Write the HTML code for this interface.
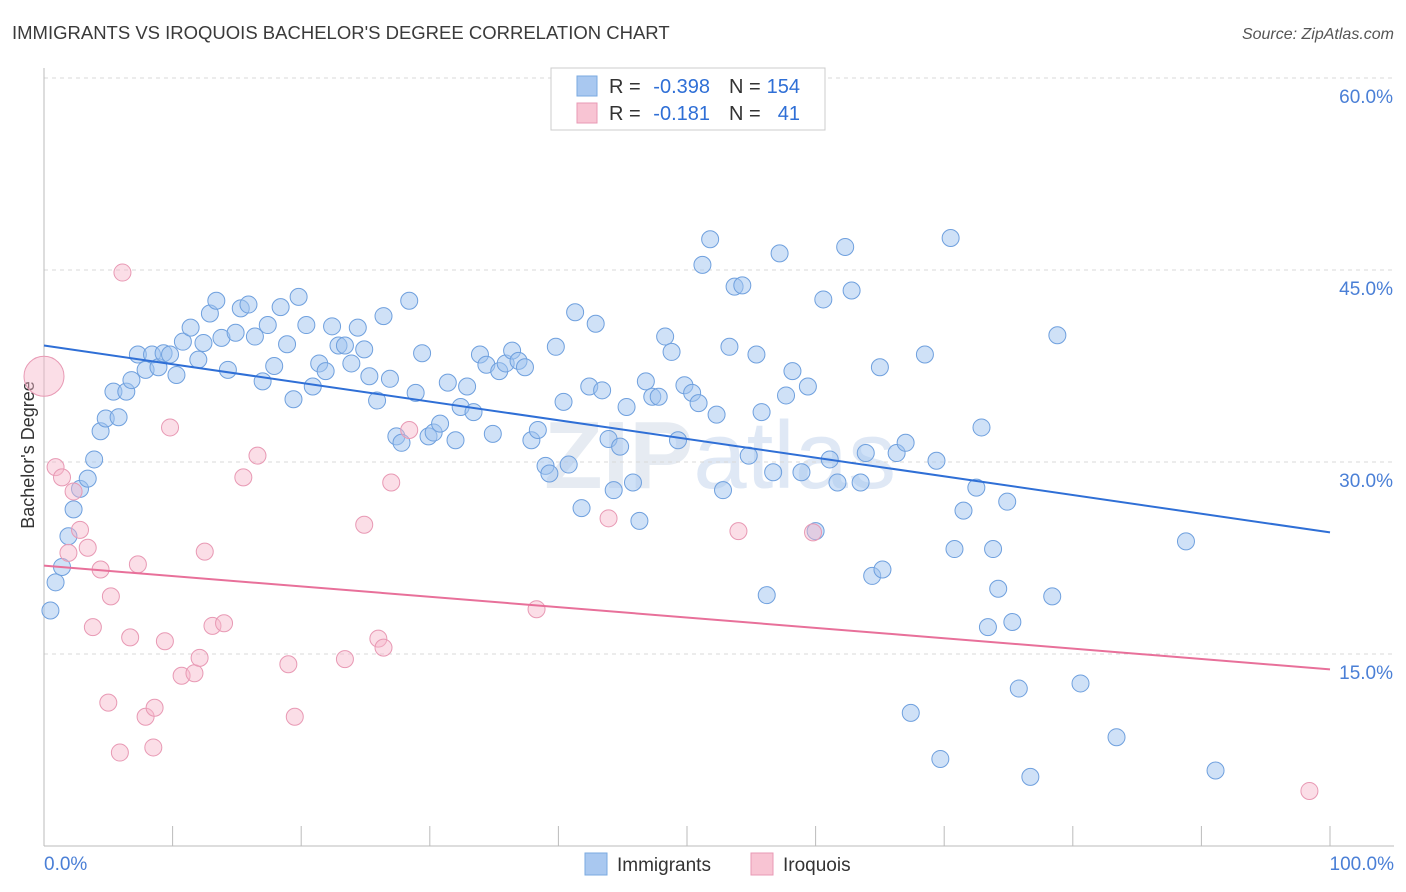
<!DOCTYPE html>
<html><head><meta charset="utf-8">
<style>
body{margin:0;background:#fff;font-family:"Liberation Sans",sans-serif;}
#wrap{position:relative;width:1406px;height:892px;overflow:hidden;}
</style></head>
<body>
<div id="wrap">
<svg id="chart" width="1406" height="892" xmlns="http://www.w3.org/2000/svg">
  <text x="12" y="39" font-size="18.5" fill="#3a3a3a">IMMIGRANTS VS IROQUOIS BACHELOR'S DEGREE CORRELATION CHART</text>
  <text x="1394" y="39" font-size="16" fill="#555" font-style="italic" text-anchor="end">Source: ZipAtlas.com</text>
  <text x="720" y="488" font-size="96" fill="#e6ebf2" text-anchor="middle" font-weight="bold">ZIP<tspan font-weight="normal" fill="#dfe8f5">atlas</tspan></text>
  <g id="grid"></g>
  <g id="axes"></g>
  <text transform="translate(34,455) rotate(-90)" font-size="18" fill="#333" text-anchor="middle">Bachelor's Degree</text>
  <g id="pts"></g>
  <g id="lines"></g>
  <g>
    <rect x="551" y="68" width="274" height="62" fill="#fff" stroke="#ccc"/>
    <rect x="577" y="76" width="20" height="20" fill="#a9c8f0" stroke="#7aaae0"/>
    <rect x="577" y="103" width="20" height="20" fill="#f8c4d3" stroke="#e89ab5"/>
    <g font-size="20" fill="#333">
      <text x="609" y="93">R =</text>
      <text x="710" y="93" text-anchor="end" fill="#2f6fd6">-0.398</text>
      <text x="729" y="93">N =</text>
      <text x="800" y="93" text-anchor="end" fill="#2f6fd6">154</text>
    </g>
    <g font-size="20" fill="#333">
      <text x="609" y="120">R =</text>
      <text x="710" y="120" text-anchor="end" fill="#2f6fd6">-0.181</text>
      <text x="729" y="120">N =</text>
      <text x="800" y="120" text-anchor="end" fill="#2f6fd6">41</text>
    </g>
  </g>
  <g>
    <rect x="585" y="853" width="22" height="22" fill="#a9c8f0" stroke="#7aaae0"/>
    <text x="617" y="871" font-size="19" fill="#333">Immigrants</text>
    <rect x="751" y="853" width="22" height="22" fill="#f8c4d3" stroke="#e89ab5"/>
    <text x="783" y="871" font-size="19" fill="#333">Iroquois</text>
  </g>
</svg>
</div>
<script>
const blueX=[0.5,0.9,1.4,1.9,2.3,2.8,3.4,3.9,4.4,4.8,5.4,5.8,6.4,6.8,7.3,7.9,8.4,8.9,9.3,9.8,10.3,10.8,11.4,12.0,12.4,12.9,13.4,13.8,14.3,14.9,15.3,15.9,16.4,17.0,17.4,17.9,18.4,18.9,19.4,19.8,20.4,20.9,21.4,21.9,22.4,22.9,23.4,23.9,24.4,24.9,25.3,25.9,26.4,26.9,27.4,27.8,28.4,28.9,29.4,29.9,30.3,30.8,31.4,32.0,32.4,32.9,33.4,33.9,34.4,34.9,35.4,35.9,36.4,36.9,37.4,37.9,38.4,39.0,39.3,39.8,40.4,40.8,41.3,41.8,42.4,42.9,43.4,43.9,44.3,44.8,45.3,45.8,46.3,46.8,47.3,47.8,48.3,48.8,49.3,49.8,50.4,50.9,51.2,51.8,52.3,52.8,53.3,53.7,54.3,54.8,55.4,55.8,56.2,56.7,57.2,57.7,58.2,58.9,59.4,60.0,60.6,61.1,61.7,62.3,62.8,63.5,63.9,64.4,65.0,65.2,66.3,67.0,67.4,68.5,69.4,69.7,70.5,70.8,71.5,72.5,72.9,73.4,73.8,74.2,74.9,75.3,75.8,76.7,78.4,78.8,80.6,83.4,88.8,91.1];
const blueY=[18.4,20.6,21.8,24.2,26.3,27.9,28.7,30.2,32.4,33.4,35.5,33.5,35.5,36.4,38.4,37.2,38.4,37.4,38.5,38.4,36.8,39.4,40.5,38.0,39.3,41.6,42.6,39.7,37.2,40.1,42.0,42.3,39.8,36.3,40.7,37.5,42.1,39.2,34.9,42.9,40.7,35.9,37.7,37.1,40.6,39.1,39.1,37.7,40.5,38.8,36.7,34.8,41.4,36.5,32.0,31.5,42.6,35.4,38.5,32.0,32.3,33.0,36.2,31.7,34.3,35.9,33.9,38.4,37.6,32.2,37.1,37.7,38.7,37.9,37.4,31.7,32.5,29.7,29.1,39.0,34.7,29.8,41.7,26.4,35.9,40.8,35.6,31.8,27.8,31.2,34.3,28.4,25.4,36.3,35.1,35.1,39.8,38.6,31.7,36.0,35.4,34.6,45.4,47.4,33.7,27.8,39.0,43.7,43.8,30.5,38.4,33.9,19.6,29.2,46.3,35.2,37.1,29.2,35.9,24.6,42.7,30.2,28.4,46.8,43.4,28.4,30.7,21.1,37.4,21.6,30.7,31.5,10.4,38.4,30.1,6.8,47.5,23.2,26.2,28.0,32.7,17.1,23.2,20.1,26.9,17.5,12.3,5.4,19.5,39.9,12.7,8.5,23.8,5.9];
const pinkX=[0.0,0.9,1.4,1.9,2.3,2.8,3.4,3.8,4.4,5.0,5.2,5.9,6.1,6.7,7.3,7.9,8.5,8.6,9.4,9.8,10.7,11.7,12.1,12.5,13.1,14.0,15.5,16.6,19.0,19.5,23.4,24.9,26.0,26.4,27.0,28.4,38.3,43.9,54.0,59.8,98.4];
const pinkY=[36.7,29.6,28.8,22.9,27.7,24.7,23.3,17.1,21.6,11.2,19.5,7.3,44.8,16.3,22.0,10.1,7.7,10.8,16.0,32.7,13.3,13.5,14.7,23.0,17.2,17.4,28.8,30.5,14.2,10.1,14.6,25.1,16.2,15.5,28.4,32.5,18.5,25.6,24.6,24.5,4.3];
const trendStart=[39.1,21.9];
const trendEnd=[24.5,13.8];
const yTicks=[15,30,45,60];
const yTickLabels=["15.0%","30.0%","45.0%","60.0%"];
const xTicks=[0,10,20,30,40,50,60,70,80,90,100];

const NS="http://www.w3.org/2000/svg";
const X0=44,X1=1330,YB=846,PXPER=12.8;
function sx(v){return X0+(v/100)*(X1-X0);}
function sy(v){return YB-v*PXPER;}
function mk(tag,attrs,parent){const e=document.createElementNS(NS,tag);for(const k in attrs)e.setAttribute(k,attrs[k]);parent.appendChild(e);return e;}

const grid=document.getElementById('grid'),axes=document.getElementById('axes');
yTicks.forEach((t,i)=>{
  const l=mk('line',{x1:X0,x2:1394,y1:sy(t),y2:sy(t),stroke:'#d8d8d8','stroke-dasharray':'4,4'},grid);
  
  
  const tx=mk('text',{x:1393,y:sy(t)+25,'font-size':19,fill:'#4a7fd6','text-anchor':'end'},axes);
  tx.textContent=yTickLabels[i];
  
  
});
let a=mk('line',{x1:X0,x2:X0,y1:68,y2:YB,stroke:'#bbb'},axes);


a=mk('line',{x1:X0,x2:1394,y1:YB,y2:YB,stroke:'#bbb'},axes);


xTicks.forEach(t=>{
  const l=mk('line',{x1:sx(t),x2:sx(t),y1:826,y2:YB,stroke:'#bbb'},axes);
  
  
});
let xl=mk('text',{x:44,y:870,'font-size':19,fill:'#4a7fd6'},axes);xl.textContent='0.0%';


xl=mk('text',{x:1394,y:870,'font-size':19,fill:'#4a7fd6','text-anchor':'end'},axes);xl.textContent='100.0%';



const pts=document.getElementById('pts');
blueX.forEach((x,i)=>{
  const c=mk('circle',{cx:sx(x),cy:sy(blueY[i]),r:8.5,fill:'rgba(160,196,240,0.5)',stroke:'#6fa0de','stroke-width':1},pts);
  
  
});
pinkX.forEach((x,i)=>{
  const c=mk('circle',{cx:sx(x),cy:sy(pinkY[i]),r:i===0?20:8.5,fill:'rgba(246,182,202,0.45)',stroke:'#e899b4','stroke-width':1},pts);
  
  
});
const lines=document.getElementById('lines');
const cols=['#2f6fd6','#e8709a'];
trendStart.forEach((s,i)=>{
  const l=mk('line',{x1:sx(0),y1:sy(s),x2:sx(100),y2:sy(trendEnd[i]),stroke:cols[i],'stroke-width':2},lines);
  
  
});
</script>
</body></html>
